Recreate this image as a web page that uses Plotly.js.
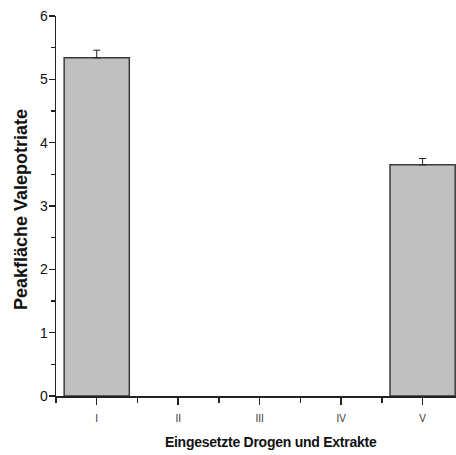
<!DOCTYPE html>
<html>
<head>
<meta charset="utf-8">
<script src="https://cdn.plot.ly/plotly-3.0.1.min.js"></script>
<style>
html,body{margin:0;padding:0;background:#fff;}
#chart{width:456px;height:455px;}
.annotation[data-index="0"] text{letter-spacing:-0.25px;}
</style>
</head>
<body>
<div id="chart"></div>
<script>
const categories = ["I", "II", "III", "IV", "V"];
const values = [5.34, 0, 0, 0, 3.65];
const errors = [0.12, 0, 0, 0, 0.10];
const yTitle = "Peakfläche Valepotriate";
const xTitle = "Eingesetzte Drogen und Extrakte";

const positions = categories.map((c, i) => i);
const shown = values.map(v => v > 0 ? v : null);

const trace = {
  type: "bar",
  x: positions,
  y: shown,
  width: 0.8,
  marker: {color: "#c0c0c0", line: {color: "#3a3a3a", width: 1.5}},
  error_y: {type: "data", symmetric: false,
            array: errors.map((e, i) => values[i] > 0 ? e : 0),
            arrayminus: errors.map(() => 0),
            color: "#222", thickness: 1, width: 3.5, visible: true},
  hoverinfo: "none"
};

const font = "Liberation Sans, Arial, sans-serif";

const layout = {
  width: 456, height: 455,
  margin: {l: 56, r: 0, t: 16, b: 59},
  paper_bgcolor: "#fff", plot_bgcolor: "#fff",
  showlegend: false,
  xaxis: {
    range: [-0.5, 4.41], tickvals: positions, ticktext: categories,
    showgrid: false, zeroline: false, showline: true, linecolor: "#222", linewidth: 1.5,
    ticks: "outside", ticklen: 7, tickwidth: 1.5, tickcolor: "#222",
    tickfont: {family: font, size: 10, color: "#333"}, ticklabelstandoff: 5,
    minor: {tickvals: [-0.5, 0.5, 1.5, 2.5, 3.5], ticks: "outside", ticklen: 5, tickwidth: 1.5, tickcolor: "#222"},
    fixedrange: true
  },
  yaxis: {
    range: [0, 6], dtick: 1, tick0: 0,
    showgrid: false, zeroline: false, showline: true, linecolor: "#222", linewidth: 1.5,
    ticks: "outside", ticklen: 6, tickwidth: 1.5, tickcolor: "#222",
    tickfont: {family: font, size: 14, color: "#111"}, ticklabelstandoff: -2,
    minor: {dtick: 0.5, ticks: "outside", ticklen: 4, tickwidth: 1.5, tickcolor: "#222"},
    fixedrange: true
  },
  annotations: [
    {text: "<b>" + xTitle + "</b>", xref: "paper", yref: "paper", x: 0.5375, y: -0.095,
     xanchor: "center", yanchor: "top", showarrow: false,
     font: {family: font, size: 14, color: "#111"}},
    {text: "<b>" + yTitle + "</b>", xref: "paper", yref: "paper", x: -0.057, y: 0.49,
     xanchor: "right", yanchor: "middle", textangle: -90, showarrow: false,
     font: {family: font, size: 18, color: "#111"}}
  ]
};

Plotly.newPlot("chart", [trace], layout, {staticPlot: true, displayModeBar: false});
</script>
</body>
</html>
